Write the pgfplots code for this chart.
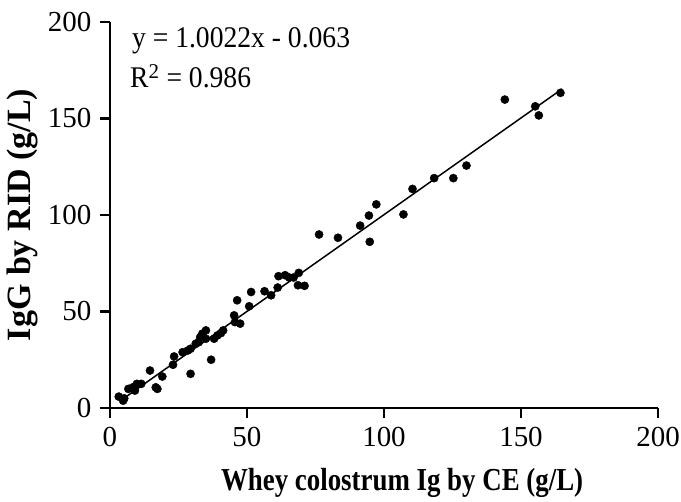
\documentclass[border=0pt]{standalone}
\usepackage{fontspec}
\setmainfont{Liberation Serif}
\newfontfamily\eqfont[FakeStretch=0.92]{Liberation Serif}
\newfontfamily\xlabfont[FakeStretch=0.84]{Liberation Serif}
\usepackage{pgfplots}
\pgfplotsset{compat=1.18}
\begin{document}
\begin{tikzpicture}
\useasboundingbox (0,0) rectangle (681pt,502pt);
\begin{axis}[
  at={(110pt,94pt)}, anchor=south west,
  scale only axis, width=548pt, height=386pt,
  xmin=0, xmax=200, ymin=0, ymax=200,
  axis lines*=left,
  axis line style={line width=2.5pt},
  every tick/.style={black, line width=2.5pt},
  tick align=outside,
  major tick length=10pt,
  xtick={0,50,100,150,200}, ytick={0,50,100,150,200},
  minor tick num=0,
  /pgf/number format/assume math mode=true,
  tick label style={font=\fontsize{29}{31}\selectfont},
  xticklabel style={yshift=-6pt},
  yticklabel style={xshift=-5pt},
  clip=false,
  xlabel={\xlabfont\bfseries\fontsize{32}{34}\selectfont Whey colostrum Ig by CE (g/L)},
  ylabel={\bfseries\fontsize{34}{36}\selectfont IgG by RID (g/L)},
  every axis x label/.style={at={(axis description cs:0.533,-0.215)}, anchor=base},
  every axis y label/.style={at={(axis description cs:-0.1606,0.5)}, rotate=90, anchor=center},
]
\addplot[black, line width=1.5pt] coordinates {(4,3.95) (165,165.3)};
\addplot[only marks, mark=*, mark size=4.1pt, black] coordinates {
(3.2,5.9) (4.8,3.8) (5.2,5.0) (6.7,9.9) (8.3,10.7) (9.1,9.0) (9.8,12.5) (11.4,12.5)
(14.6,19.4) (16.7,10.7) (17.3,9.9) (19.1,16.3) (23.0,22.4) (23.4,26.7) (26.5,28.9)
(28.4,29.8) (29.4,30.7) (29.4,17.7) (31.3,33.3) (32.4,34.1) (32.9,36.7) (33.7,38.5)
(35.0,40.2) (35.0,35.9) (36.9,25.0) (38.0,35.9) (39.2,37.6) (40.5,38.8) (41.3,40.2)
(45.3,48.0) (46.4,55.8) (45.6,44.5) (47.5,43.7) (50.8,52.7) (51.5,60.1) (56.4,60.5)
(58.8,58.4) (61.2,62.4) (61.5,68.3) (63.9,68.8) (65.4,67.6) (67.0,67.6) (68.9,70.0)
(68.6,63.6) (71.0,63.3) (76.3,89.9) (83.2,88.2) (91.3,94.5) (94.5,99.7) (94.8,86.1)
(97.2,105.5) (107.1,100.3) (110.4,113.5) (118.3,119.1) (125.3,119.1) (130.1,125.6)
(144.1,159.8) (155.2,156.3) (156.5,151.6) (164.4,163.3)
};
\node[anchor=base west, font=\eqfont\fontsize{30}{32}\selectfont, inner sep=0pt] at (axis cs:8,187) {y = 1.0022x - 0.063};
\node[anchor=base west, font=\eqfont\fontsize{30}{32}\selectfont, inner sep=0pt] at (axis cs:7.3,166) {R$^{\mathrm{2}}$ = 0.986};
\end{axis}
\end{tikzpicture}
\end{document}
